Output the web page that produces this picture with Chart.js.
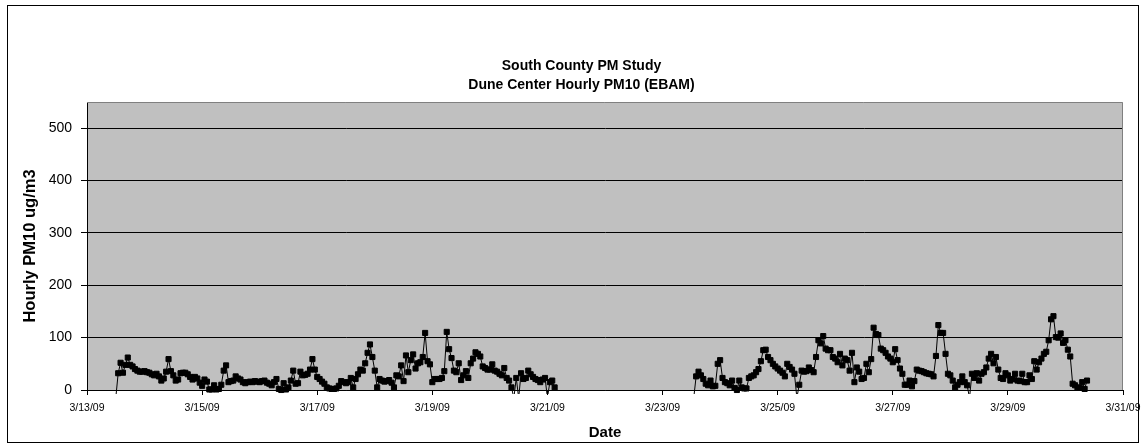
<!DOCTYPE html>
<html><head><meta charset="utf-8">
<script src="https://cdn.jsdelivr.net/npm/chart.js@4"></script>
<style>html,body{margin:0;padding:0;background:#fff}#wrap{width:1143px;height:447px;position:relative}</style>
</head><body><div id="wrap"><canvas id="c" width="1143" height="447"></canvas></div>
<script>
const titleLines = ["South County PM Study", "Dune Center Hourly PM10 (EBAM)"];
const yAxisTitle = "Hourly PM10 ug/m3";
const xAxisTitle = "Date";
const dateTickLabels = ["3/13/09","3/15/09","3/17/09","3/19/09","3/21/09","3/23/09","3/25/09","3/27/09","3/29/09","3/31/09"];
const hoursPerTick = 48;           // one date label every 2 days
const axisEndHour = 432;           // 3/31/09 00:00, hours after 3/13/09 00:00
const yMax = 550;
const yStep = 100;

// hourly PM10, first block starts 3/13/09 12:00 (hour 12 after 3/13 00:00)
const series1StartHour = 12;
const series1Values = [
  -15,32,52,33,48,62,48,45,40,37,
  35,35,36,34,33,30,28,31,26,18,
  22,35,59,36,28,18,20,32,33,33,
  30,25,20,25,22,14,8,20,16,1,
  1,9,1,2,10,37,47,15,17,18,
  26,22,20,15,13,15,16,15,17,16,
  15,17,18,14,12,9,15,21,2,0,
  13,1,5,18,37,12,13,35,28,29,
  31,39,59,39,25,21,16,12,5,3,
  2,2,3,8,17,15,13,15,23,5,
  21,30,39,37,51,71,87,63,37,5,
  21,18,16,17,19,14,5,28,26,47,
  17,66,34,57,68,41,51,53,63,109,
  55,49,15,21,21,21,23,36,111,78,
  61,37,34,51,19,28,36,23,51,60,
  72,69,64,45,42,39,39,49,37,35,
  31,28,42,23,18,5,-15,23,-15,32,
  21,23,37,30,25,21,19,15,20,23,
  -15,15,18,5
];
// second block starts 3/23/09 13:00 (hour 253)
const series2StartHour = 253;
const series2Values = [
  -15,26,35,28,21,12,9,18,7,8,
  50,57,23,15,13,9,18,4,0,18,
  5,3,3,23,26,28,34,40,55,76,
  77,63,57,50,45,41,37,33,26,50,
  44,39,31,-15,10,37,35,36,43,38,
  34,63,95,89,103,79,76,76,63,60,
  53,69,47,60,57,37,71,15,43,35,
  21,23,50,34,59,119,107,105,79,76,
  71,64,60,53,78,57,41,31,10,10,
  18,7,17,39,37,36,34,32,31,30,
  26,65,124,109,109,69,31,28,18,5,
  10,15,26,15,9,-15,31,23,32,18,
  31,34,43,60,69,51,63,39,23,21,
  32,28,18,21,31,18,17,31,15,15,
  28,21,55,39,53,60,69,73,95,135,
  141,101,100,108,90,95,77,64,12,9,
  5,4,15,2,18
];

const FONT = "'Liberation Sans', Arial, sans-serif";
const toPoints = (start, vals) => vals.map((v, i) => ({x: start + i, y: v}));

const frame = {
  id: 'frame',
  beforeDraw(chart) {
    const {ctx, chartArea: a} = chart;
    ctx.save();
    ctx.fillStyle = '#ffffff';
    ctx.fillRect(0, 0, chart.width, chart.height);
    ctx.fillStyle = '#c0c0c0';
    ctx.fillRect(a.left, a.top, a.right - a.left, a.bottom - a.top);
    ctx.restore();
  },
  afterDraw(chart) {
    const {ctx, chartArea: a} = chart;
    ctx.save();
    ctx.lineWidth = 1;
    ctx.strokeStyle = '#808080';
    ctx.beginPath();
    ctx.moveTo(a.left, a.top + 0.5);
    ctx.lineTo(a.right - 0.5, a.top + 0.5);
    ctx.lineTo(a.right - 0.5, a.bottom);
    ctx.stroke();
    ctx.strokeStyle = '#000000';
    ctx.strokeRect(7.5, 5.5, 1131, 437);
    ctx.restore();
  }
};

const dsStyle = {
  borderColor: '#000', borderWidth: 1, tension: 0,
  pointStyle: 'rect', pointRadius: 3.6, pointBackgroundColor: '#000',
  pointBorderColor: '#000', pointBorderWidth: 1,
  clip: {left: 6, right: 6, top: 6, bottom: 4}
};

const LEFT_PAD = 40;

new Chart(document.getElementById('c'), {
  type: 'line',
  data: {
    datasets: [
      Object.assign({label: 'PM10 a', data: toPoints(series1StartHour, series1Values)}, dsStyle),
      Object.assign({label: 'PM10 b', data: toPoints(series2StartHour, series2Values)}, dsStyle)
    ]
  },
  options: {
    responsive: false, animation: false, devicePixelRatio: 1,
    layout: {padding: {left: LEFT_PAD, right: 20, top: 0, bottom: 0}},
    plugins: {
      legend: {display: false},
      tooltip: {enabled: false},
      title: {
        display: true, text: titleLines, color: '#000',
        font: {family: FONT, size: 14, weight: 'bold', lineHeight: 19 / 14},
        padding: {top: 57, bottom: 7}
      }
    },
    scales: {
      x: {
        type: 'linear', min: 0, max: axisEndHour,
        ticks: {
          stepSize: hoursPerTick, autoSkip: false, maxRotation: 0, includeBounds: false,
          color: '#000', font: {family: FONT, size: 10.5}, padding: 7,
          callback: (v) => dateTickLabels[Math.round(v / hoursPerTick)]
        },
        grid: {drawOnChartArea: false, drawTicks: true, tickLength: 5, color: '#000'},
        border: {display: true, color: '#000', width: 1},
        title: {display: true, text: xAxisTitle, color: '#000',
          font: {family: FONT, size: 15, weight: 'bold', lineHeight: 1.2}, padding: {top: 0, bottom: 5}},
        afterFit(s) { s.height = 57; s.paddingLeft = 0; s.paddingRight = 0; }
      },
      y: {
        min: 0, max: yMax,
        ticks: {stepSize: yStep, includeBounds: false, color: '#000',
          font: {family: FONT, size: 14}, padding: 9},
        grid: {color: '#000', lineWidth: 1, drawTicks: true, tickLength: 6, tickColor: '#000'},
        border: {display: true, color: '#000', width: 1},
        title: {display: true, text: yAxisTitle, color: '#000',
          font: {family: FONT, size: 16.5, weight: 'bold', lineHeight: 1.2},
          padding: {top: 30 - LEFT_PAD - 9.9, bottom: 0}},
        afterFit(s) { s.width = 87 - LEFT_PAD; s.paddingTop = 0; s.paddingBottom = 0; }
      }
    }
  },
  plugins: [frame]
});
</script></body></html>
